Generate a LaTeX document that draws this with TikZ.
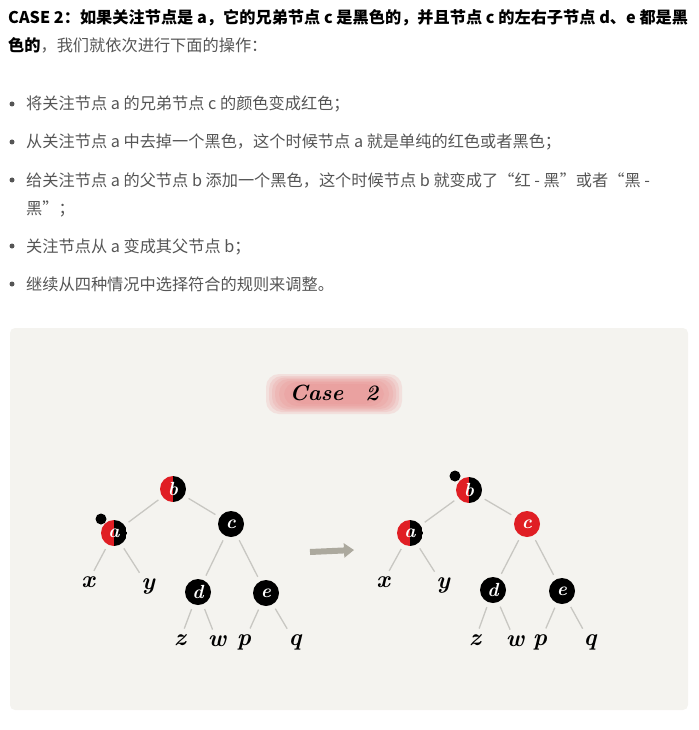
\documentclass[tikz,border=0pt]{standalone}
\usepackage{fontspec}
\usepackage{xcolor}
\usetikzlibrary{arrows.meta,positioning,calc}
\newfontfamily\cjk{Noto Sans CJK SC}
\definecolor{nred}{RGB}{224,30,36}
\definecolor{panel}{RGB}{244,243,239}
\definecolor{linkgray}{RGB}{200,199,194}
\definecolor{txtgray}{RGB}{85,85,85}
\definecolor{arrgray}{RGB}{172,169,158}
\definecolor{blob}{RGB}{232,130,130}

\begin{document}
\begin{tikzpicture}[x=1pt,y=-1pt,
  line/.style={anchor=base west,inner sep=0,font=\cjk\fontsize{16.2}{18}\selectfont},
  bdot/.style={circle,fill=txtgray,minimum size=5pt,inner sep=0},
  blk/.style={circle,fill=black,minimum size=26pt,inner sep=0,text=white,font=\bfseries\itshape\fontsize{19}{19}\selectfont},
  rnode/.style={blk,fill=nred},
  half/.style={blk,fill=none,path picture={
    \fill[nred] (path picture bounding box.north west) rectangle (path picture bounding box.south);
    \fill[black] (path picture bounding box.north) rectangle (path picture bounding box.south east);}},
  extra/.style={circle,fill=black,minimum size=11pt,inner sep=0},
  leaf/.style={inner sep=1pt,font=\bfseries\itshape\fontsize{24}{24}\selectfont},
  glow/.style={fill=blob,rounded corners=13pt,opacity=0.16},
  link/.style={draw=linkgray,line width=1.3pt,shorten <=5pt,shorten >=5pt},
  arr/.style={-{Triangle[length=10pt,width=14pt]},line width=6pt,arrgray}]
\useasboundingbox (0,0) rectangle (698,730);
% text above the picture
\node[line] (t1) at (8,24) {\bfseries CASE 2：如果关注节点是 a，它的兄弟节点 c 是黑色的，并且节点 c 的左右子节点 d、e 都是黑};
\node[line,text=txtgray] (t2) at (8,52) {\textcolor{black}{\bfseries 色的}，我们就依次进行下面的操作：};
\foreach \y/\s [count=\i] in {104/将关注节点 a 的兄弟节点 c 的颜色变成红色；,
  142/从关注节点 a 中去掉一个黑色，这个时候节点 a 就是单纯的红色或者黑色；,
  180/给关注节点 a 的父节点 b 添加一个黑色，这个时候节点 b 就变成了“红 - 黑”或者“黑 -,
  246/关注节点从 a 变成其父节点 b；,
  284/继续从四种情况中选择符合的规则来调整。}{
  \node[bdot] (d\i) at (12,\y) {};
  \node[line,text=txtgray] (s\i) at (26,\y+6) {\s};
}
\node[line,text=txtgray] (s3b) at (26,214) {黑”；};
% panel
\fill[panel,rounded corners=5pt] (10,328) rectangle (688,710);
\foreach \w/\h [count=\k] in {136/40,130/36,124/33,118/30,110/27,100/24,88/20}
  \node[glow,minimum width=\w pt,minimum height=\h pt] (g\k) at (334,394) {};
\node[font=\bfseries\itshape\fontsize{22}{22}\selectfont] (case) at (334,393) {Case\quad 2};
% left tree
\node[half] (lb) at (173,489) {b};
\node[half] (la) at (114,533) {a};
\node[extra] (lx0) at (101,519) {};
\node[blk] (lc) at (231,524) {c};
\node[blk] (ld) at (198,592) {d};
\node[blk] (le) at (266,593) {e};
\node[leaf] (lx) at (88,582) {x};
\node[leaf] (ly) at (148,586) {y};
\node[leaf] (lz) at (180,640) {z};
\node[leaf] (lw) at (217,641) {w};
\node[leaf] (lp) at (244,642) {p};
\node[leaf] (lq) at (295,642) {q};
\draw[link] (lb)--(la); \draw[link] (lb)--(lc); \draw[link] (la)--(lx); \draw[link] (la)--(ly);
\draw[link] (lc)--(ld); \draw[link] (lc)--(le); \draw[link] (ld)--(lz); \draw[link] (ld)--(lw);
\draw[link] (le)--(lp); \draw[link] (le)--(lq);
% arrow
\coordinate (as) at (310,552);
\coordinate (ae) at (354,550);
\draw[arr] (as)--(ae);
% right tree
\node[half] (rb) at (469,490) {b};
\node[extra] (rx0) at (455,476) {};
\node[half] (ra) at (410,533) {a};
\node[rnode] (rc) at (527,524) {c};
\node[blk] (rd) at (493,590) {d};
\node[blk] (re) at (562,591) {e};
\node[leaf] (rx) at (383,582) {x};
\node[leaf] (ry) at (443,585) {y};
\node[leaf] (rz) at (475,640) {z};
\node[leaf] (rw) at (515,641) {w};
\node[leaf] (rp) at (540,642) {p};
\node[leaf] (rq) at (590,642) {q};
\draw[link] (rb)--(ra); \draw[link] (rb)--(rc); \draw[link] (ra)--(rx); \draw[link] (ra)--(ry);
\draw[link] (rc)--(rd); \draw[link] (rc)--(re); \draw[link] (rd)--(rz); \draw[link] (rd)--(rw);
\draw[link] (re)--(rp); \draw[link] (re)--(rq);
\end{tikzpicture}
\end{document}
